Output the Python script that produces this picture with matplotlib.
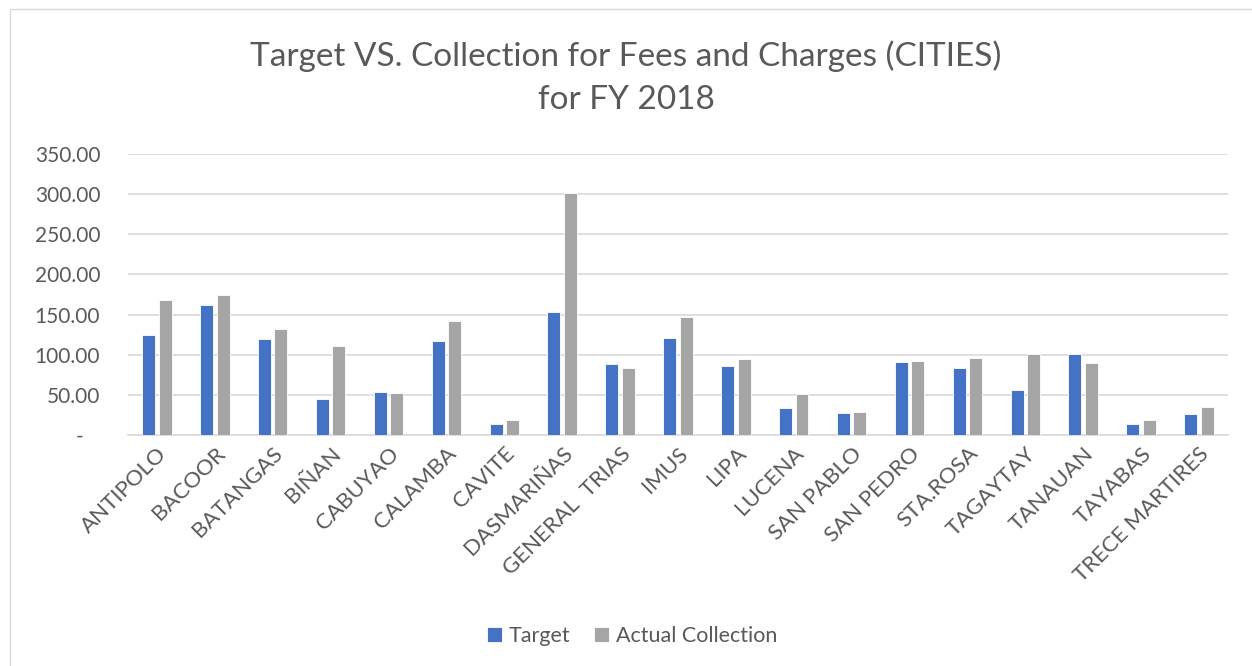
import numpy as np
import matplotlib
matplotlib.use("Agg")
import matplotlib.pyplot as plt
from matplotlib.patches import Rectangle
from matplotlib.ticker import FuncFormatter

# Donnees (en millions)
villes = ["ANTIPOLO", "BACOOR", "BATANGAS", "BIÑAN", "CABUYAO", "CALAMBA",
          "CAVITE", "DASMARIÑAS", "GENERAL  TRIAS", "IMUS", "LIPA", "LUCENA",
          "SAN PABLO", "SAN PEDRO", "STA.ROSA", "TAGAYTAY", "TANAUAN",
          "TAYABAS", "TRECE MARTIRES"]
target = [124.6, 162.0, 120.0, 45.3, 53.6, 116.7, 14.1, 153.2, 88.9, 120.4,
          86.0, 34.0, 27.0, 90.9, 83.5, 56.5, 100.5, 14.1, 26.2]
collection = [167.8, 174.4, 132.5, 110.5, 52.3, 142.4, 19.1, 301.9, 83.5, 146.6,
              94.7, 50.7, 28.2, 92.2, 95.5, 100.5, 89.3, 18.3, 34.9]

plt.rcParams['font.family'] = ['Lato', 'DejaVu Sans']
gris_texte = "#595959"

fig = plt.figure(figsize=(12.52, 6.66), dpi=100)
ax = fig.add_axes([0.1022, 0.3468, 0.8786, 0.4219])

# cadre du graphique
fig.patches.append(Rectangle((10 / 1252, -0.01), 1.0, (666 - 9) / 666 + 0.01,
                             transform=fig.transFigure, fill=False,
                             edgecolor="#D9D9D9", linewidth=1))

x = np.arange(len(villes))
w = 0.224
ax.bar(x - 0.1425, target, w, color="#4472C4", edgecolor="white", linewidth=0.6,
       label="Target", zorder=3)
ax.bar(x + 0.1425, collection, w, color="#A5A5A5", edgecolor="white", linewidth=0.6,
       label="Actual Collection", zorder=3)

ax.set_xlim(-0.5, len(villes) - 0.5)
ax.set_ylim(0, 350)
ax.set_yticks(np.arange(0, 351, 50))
ax.yaxis.set_major_formatter(FuncFormatter(lambda v, p: "-   " if v == 0 else "{:.2f}".format(v)))
ax.grid(axis="y", color="#D9D9D9", linewidth=1.2, zorder=0)
for s in ["top", "right", "left"]:
    ax.spines[s].set_visible(False)
ax.spines["bottom"].set_color("#D9D9D9")
ax.spines["bottom"].set_linewidth(1.2)
ax.tick_params(axis="y", length=0, pad=20, labelsize=15, labelcolor=gris_texte)
ax.tick_params(axis="x", length=0, pad=6, labelsize=16, labelcolor=gris_texte)
ax.set_xticks(x)
ax.set_xticklabels(villes, rotation=45, ha="right", rotation_mode="anchor")

fig.text(0.5, 0.883, "Target VS. Collection for Fees and Charges (CITIES)\nfor FY 2018",
         ha="center", va="center", fontsize=24, color=gris_texte,
         linespacing=1.55)

ax.legend(loc="center", bbox_to_anchor=(0.505, 0.045), bbox_transform=fig.transFigure,
          ncol=2, frameon=False, fontsize=15.5, labelcolor=gris_texte,
          handlelength=0.7, handleheight=0.7, handletextpad=0.3, columnspacing=1.1)

fig.savefig("out.png", dpi=100)
